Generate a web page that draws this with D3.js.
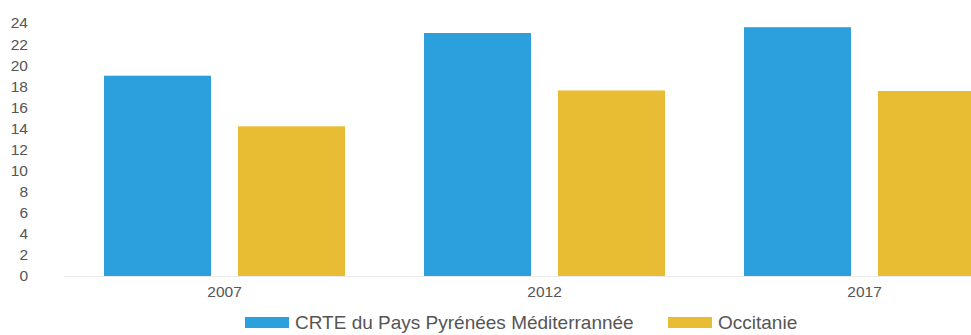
<!DOCTYPE html>
<html>
<head>
<meta charset="utf-8">
<script src="https://cdn.jsdelivr.net/npm/d3@7"></script>
<style>
  body{margin:0;background:#fff;}
  svg{display:block;}
</style>
</head>
<body>
<svg id="chart" width="971" height="335"></svg>
<script>
// data
var years=['2007','2012','2017'];
var seriesNames=['CRTE du Pays Pyrénées Méditerrannée','Occitanie'];
var crteValues=[19.0,23.05,23.6];
var occitanieValues=[14.2,17.6,17.55];
var yTicks=[0,2,4,6,8,10,12,14,16,18,20,22,24];

var colors=['#2c9fdd','#e8bc33'];
var textColor='#555';
var family='Arial, "Liberation Sans", sans-serif';

var svg=d3.select('#chart');
var rows=years.map(function(y,i){
    return {year:y,values:[crteValues[i],occitanieValues[i]]};
});

var y=d3.scaleLinear().domain([0,24]).range([276,23]);
// plot runs past the right edge of the window, as in the original
var x0=d3.scaleBand().domain(years).range([64.5,1024.5]).paddingInner(0).paddingOuter(0);
var x1=d3.scaleBand().domain(d3.range(seriesNames.length))
    .range([39.5,280.5]).paddingInner(0.2015).paddingOuter(0);

// faint baseline
svg.append('line')
    .attr('x1',64).attr('x2',971)
    .attr('y1',y(0)+0.5).attr('y2',y(0)+0.5)
    .style('stroke','#ececec')
    .style('stroke-width',1);

// y axis, labels only
var yAxis=d3.axisLeft(y).tickValues(yTicks).tickSize(0).tickPadding(0);
var yg=svg.append('g').attr('transform','translate(28,0)').call(yAxis);
yg.select('.domain').remove();
yg.selectAll('text')
    .style('font-family',family)
    .style('font-size','15.5px')
    .style('fill',textColor);

// bars
var groups=svg.selectAll('g.year')
    .data(rows)
    .enter()
    .append('g')
    .attr('class','year')
    .attr('transform',function(d){return 'translate('+x0(d.year)+',0)';});
groups.selectAll('rect')
    .data(function(d){return d.values;})
    .enter()
    .append('rect')
    .attr('x',function(d,i){return x1(i);})
    .attr('width',x1.bandwidth())
    .attr('y',function(d){return y(d);})
    .attr('height',function(d){return y(0)-y(d);})
    .style('fill',function(d,i){return colors[i];});

// x axis labels
var xAxis=d3.axisBottom(x0).tickSize(0).tickPadding(0);
var xg=svg.append('g').attr('transform','translate(0,286)').call(xAxis);
xg.select('.domain').remove();
xg.selectAll('text')
    .style('font-family',family)
    .style('font-size','15.5px')
    .style('fill',textColor);

// legend
var legendX=[245,668];
var legend=svg.selectAll('g.legend')
    .data(seriesNames)
    .enter()
    .append('g')
    .attr('class','legend')
    .attr('transform',function(d,i){return 'translate('+legendX[i]+',317)';});
legend.append('rect')
    .attr('width',44)
    .attr('height',11)
    .style('fill',function(d,i){return colors[i];});
legend.append('text')
    .attr('x',50)
    .attr('y',12)
    .style('font-family',family)
    .style('font-size','19px')
    .style('fill',textColor)
    .text(function(d){return d;});
</script>
</body>
</html>
